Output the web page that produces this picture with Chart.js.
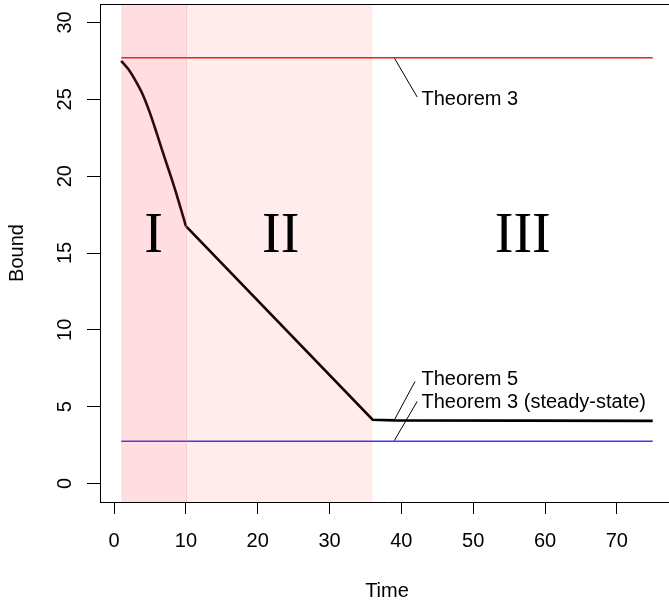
<!DOCTYPE html>
<html>
<head>
<meta charset="utf-8">
<script src="https://cdn.jsdelivr.net/npm/chart.js@4"></script>
<style>
  html, body { margin: 0; padding: 0; background: #fff; overflow: hidden; }
  #wrap { width: 669px; height: 608px; overflow: hidden; }
</style>
</head>
<body>
<div id="wrap"><canvas id="chart" width="674" height="608"></canvas></div>
<script>
// bound over time (black curve): curved first phase, then straight pieces
const earlyTimes = [1, 2, 3, 4, 5, 6, 7, 8, 9, 10];
const earlyBound = [27.5, 26.95, 26.2, 25.3, 24.1, 22.7, 21.25, 19.85, 18.35, 16.75];
const lateTimes = [10, 36, 39, 75];
const lateBound = [16.75, 4.15, 4.11, 4.08];

// horizontal reference bounds
const thm3Level = 27.7;
const thm3SteadyLevel = 2.75;
const levelSpan = [1, 75];

// phases
const regionEdges = [1, 10, 36];
const regionNames = ['I', 'II', 'III'];
const regionNameX = [5.5, 23.2, 56.9];
const regionNameY = 16.3;

// pointer notes
const noteLabels = ['Theorem 3', 'Theorem 5', 'Theorem 3 (steady-state)'];
const noteStartX = [39, 39, 39];
const noteStartY = [27.7, 4.12, 2.78];
const noteEndX = [42.2, 41.9, 42.2];
const noteEndY = [25.15, 6.64, 5.34];
const noteTextX = 42.8;
const noteTextY = [25.1, 6.86, 5.34];

const xTicks = [0, 10, 20, 30, 40, 50, 60, 70];
const yTicks = [0, 5, 10, 15, 20, 25, 30];

const SANS = '"Liberation Sans", Arial, Helvetica, sans-serif';
const SERIF = '"Liberation Serif", "Times New Roman", serif';

const pts = (xs, ys) => xs.map((v, i) => ({ x: v, y: ys[i] }));

const datasets = [
    { data: pts(earlyTimes, earlyBound), borderColor: '#000', borderWidth: 2.6, cubicInterpolationMode: 'monotone' },
    { data: pts(lateTimes, lateBound), borderColor: '#000', borderWidth: 2.6 },
    { data: pts(levelSpan, [thm3Level, thm3Level]), borderColor: 'rgb(238,30,30)', borderWidth: 1.5 },
    { data: pts(levelSpan, [thm3SteadyLevel, thm3SteadyLevel]), borderColor: 'rgb(60,60,235)', borderWidth: 1.5 }
];
noteLabels.forEach((_, i) => {
    datasets.push({
        data: pts([noteStartX[i], noteEndX[i]], [noteStartY[i], noteEndY[i]]),
        borderColor: '#000', borderWidth: 1
    });
});
datasets.forEach(d => { d.pointRadius = 0; d.fill = false; });

const decor = {
    id: 'decor',
    afterDatasetsDraw(chart) {
        const { ctx, chartArea: a, scales: { x } } = chart;
        const p0 = x.getPixelForValue(regionEdges[0]);
        const p1 = x.getPixelForValue(regionEdges[1]);
        const p2 = x.getPixelForValue(regionEdges[2]);
        ctx.save();
        ctx.fillStyle = 'rgba(255,60,80,0.174)';
        ctx.fillRect(p0, a.top, p1 - p0, a.bottom - a.top);
        ctx.fillStyle = 'rgba(255,0,0,0.07)';
        ctx.fillRect(p1, a.top, p2 - p1, a.bottom - a.top);
        ctx.strokeStyle = 'rgba(220,150,160,0.35)';
        ctx.lineWidth = 1;
        ctx.beginPath();
        ctx.moveTo(Math.round(p1) + 0.5, a.top);
        ctx.lineTo(Math.round(p1) + 0.5, a.bottom);
        ctx.stroke();
        ctx.restore();
    },
    afterDraw(chart) {
        const { ctx, chartArea: a, scales: { x, y } } = chart;
        ctx.save();
        // top of box
        ctx.strokeStyle = '#000';
        ctx.lineWidth = 1;
        ctx.beginPath();
        ctx.moveTo(a.left, a.top + 0.5);
        ctx.lineTo(a.right, a.top + 0.5);
        ctx.stroke();

        ctx.fillStyle = '#000';
        // phase names
        ctx.font = '56px ' + SERIF;
        ctx.textAlign = 'center';
        ctx.textBaseline = 'alphabetic';
        regionNames.forEach((n, i) => {
            ctx.fillText(n, x.getPixelForValue(regionNameX[i]), y.getPixelForValue(regionNameY) + 18.5);
        });

        // notes
        ctx.font = '20px ' + SANS;
        ctx.textAlign = 'left';
        noteLabels.forEach((t, i) => {
            ctx.fillText(t, x.getPixelForValue(noteTextX), y.getPixelForValue(noteTextY[i]) + 7);
        });

        // y tick labels (rotated)
        ctx.textAlign = 'center';
        yTicks.forEach(v => {
            ctx.save();
            ctx.translate(71, y.getPixelForValue(v));
            ctx.rotate(-Math.PI / 2);
            ctx.fillText(String(v), 0, 0);
            ctx.restore();
        });

        // axis titles
        ctx.fillText('Time', (a.left + a.right) / 2, 597);
        ctx.save();
        ctx.translate(23, (a.top + a.bottom) / 2);
        ctx.rotate(-Math.PI / 2);
        ctx.fillText('Bound', 0, 0);
        ctx.restore();
        ctx.restore();
    }
};

new Chart(document.getElementById('chart').getContext('2d'), {
    type: 'line',
    data: { datasets },
    options: {
        responsive: false,
        animation: false,
        layout: { padding: { top: 4, right: 0, bottom: 0, left: 0 } },
        plugins: { legend: { display: false }, tooltip: { enabled: false } },
        scales: {
            x: {
                type: 'linear',
                min: -1.96,
                max: 77.96,
                afterBuildTicks: s => { s.ticks = xTicks.map(v => ({ value: v })); },
                afterFit: s => { s.height = 106; },
                grid: { drawOnChartArea: false, drawTicks: true, tickLength: 12, color: '#000', lineWidth: 1 },
                border: { display: true, color: '#000', width: 1 },
                ticks: {
                    autoSkip: false, maxRotation: 0, padding: 15, color: '#000',
                    font: { family: SANS, size: 20 }
                }
            },
            y: {
                type: 'linear',
                min: -1.2,
                max: 31.2,
                afterBuildTicks: s => { s.ticks = yTicks.map(v => ({ value: v })); },
                afterFit: s => { s.width = 100; },
                grid: { drawOnChartArea: false, drawTicks: true, tickLength: 13, color: '#000', lineWidth: 1 },
                border: { display: true, color: '#000', width: 1 },
                ticks: { display: false }
            }
        }
    },
    plugins: [decor]
});
</script>
</body>
</html>
